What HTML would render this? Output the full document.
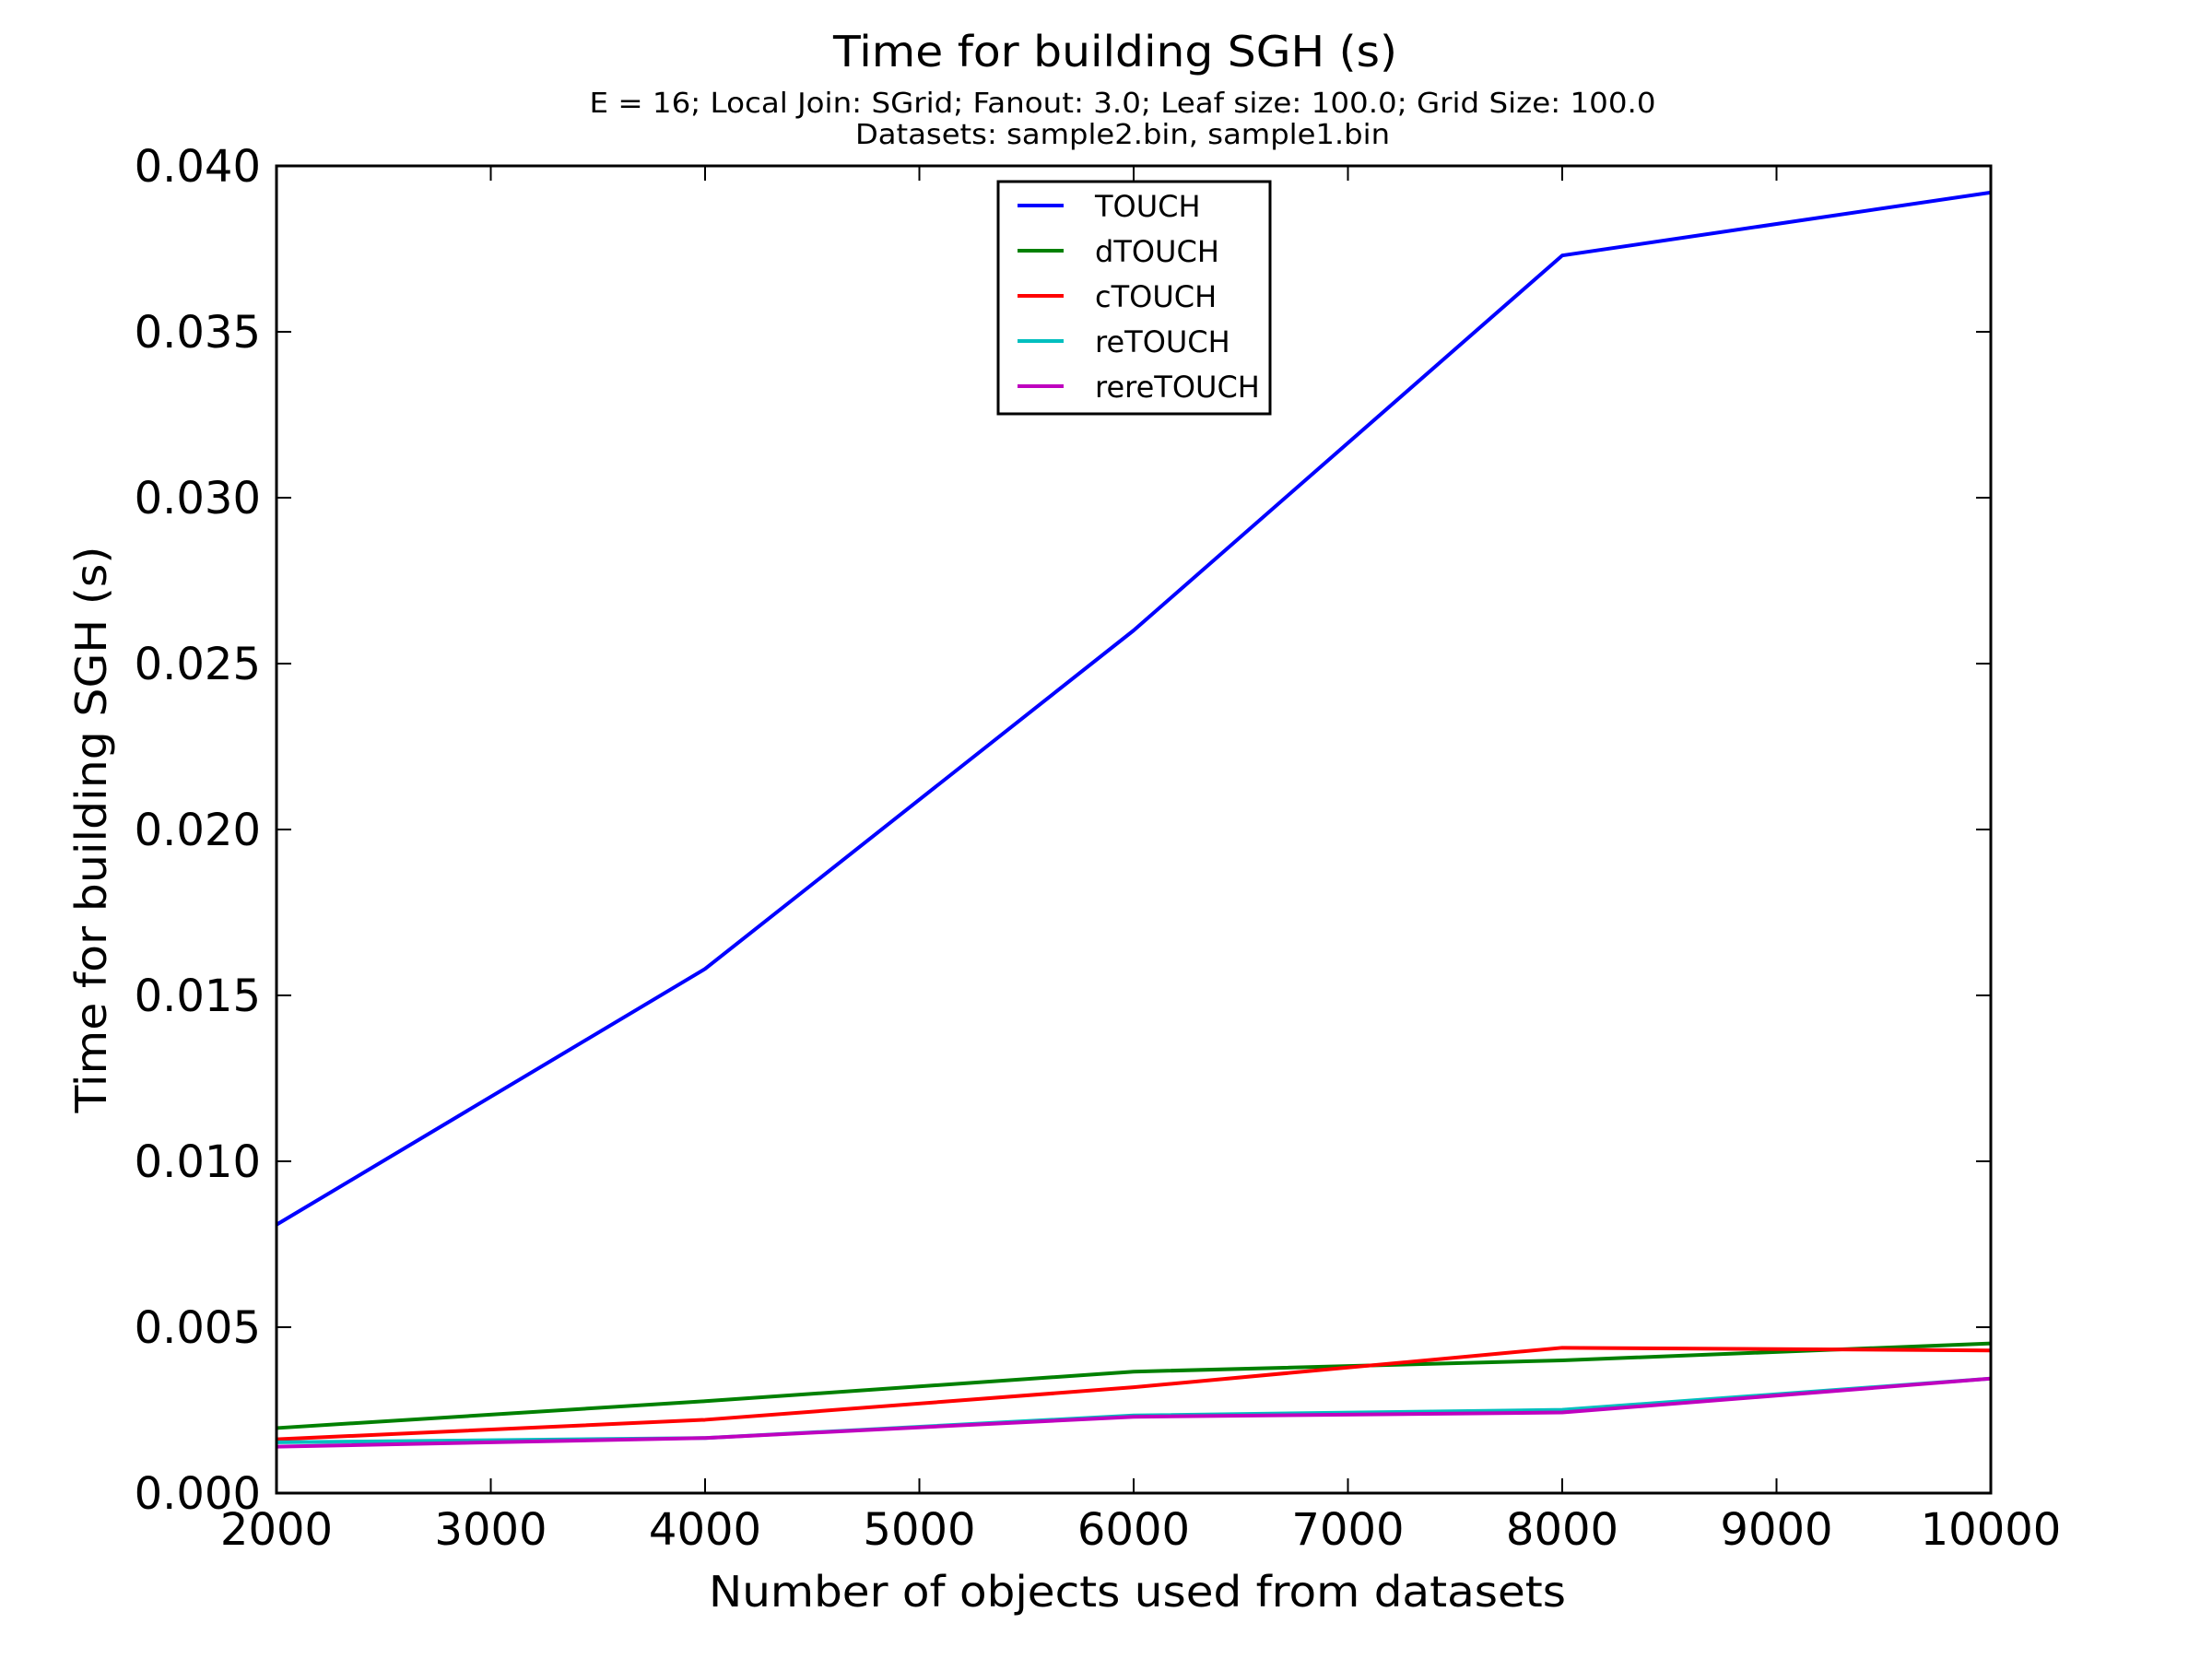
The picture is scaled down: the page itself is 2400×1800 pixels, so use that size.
<!DOCTYPE html>
<html><head><meta charset="utf-8"><style>
html,body{margin:0;padding:0;background:#fff;}
svg{display:block;font-family:"DejaVu Sans","Liberation Sans",sans-serif;}
</style></head><body>
<svg id="chart" width="2400" height="1800" viewBox="0 0 2400 1800" xmlns="http://www.w3.org/2000/svg">
<rect width="2400" height="1800" fill="#fff"/>
<text x="1210" y="72" font-size="46" text-anchor="middle" textLength="612" lengthAdjust="spacingAndGlyphs">Time for building SGH (s)</text>
<text x="1218" y="122" font-size="30" text-anchor="middle" textLength="1157" lengthAdjust="spacingAndGlyphs">E = 16; Local Join: SGrid; Fanout: 3.0; Leaf size: 100.0; Grid Size: 100.0</text>
<text x="1218" y="156" font-size="30" text-anchor="middle" textLength="580" lengthAdjust="spacingAndGlyphs">Datasets: sample2.bin, sample1.bin</text>
<g id="ticks"></g>
<g id="series"></g>
<rect x="300" y="180" width="1860" height="1440" fill="none" stroke="#000" stroke-width="3"/>
<text x="1234" y="1743" font-size="46" text-anchor="middle" textLength="930" lengthAdjust="spacingAndGlyphs">Number of objects used from datasets</text>
<text transform="translate(115,900) rotate(-90)" font-size="46" text-anchor="middle" textLength="615" lengthAdjust="spacingAndGlyphs">Time for building SGH (s)</text>
<g id="legend"></g>
</svg>
<script>
const categories = [2000, 4000, 6000, 8000, 10000];
const seriesNames = ["TOUCH", "dTOUCH", "cTOUCH", "reTOUCH", "rereTOUCH"];
const touch = [0.00809, 0.0158, 0.0260, 0.0373, 0.0392];
const dtouch = [0.00196, 0.00277, 0.00366, 0.0040, 0.00451];
const ctouch = [0.00162, 0.00221, 0.00319, 0.00438, 0.0043];
const retouch = [0.00153, 0.00166, 0.00234, 0.00251, 0.00345];
const reretouch = [0.0014, 0.00166, 0.0023, 0.00243, 0.00345];
const xTicks = [2000, 3000, 4000, 5000, 6000, 7000, 8000, 9000, 10000];
const yTicks = [0, 0.005, 0.010, 0.015, 0.020, 0.025, 0.030, 0.035, 0.040];
const yTickLabels = ["0.000","0.005","0.010","0.015","0.020","0.025","0.030","0.035","0.040"];

const colors = ["#0000ff","#008000","#ff0000","#00bfbf","#bf00bf"];
const allSeries = [touch, dtouch, ctouch, retouch, reretouch];
const NS = "http://www.w3.org/2000/svg";
const L = 300, R = 2160, T = 180, B = 1620;
const xs = v => L + (v - 2000) / 8000 * (R - L);
const ys = v => B - v / 0.04 * (B - T);
function mk(tag, attrs, parent) {
  const e = document.createElementNS(NS, tag);
  for (const k in attrs) e.setAttribute(k, attrs[k]);
  parent.appendChild(e);
  return e;
}
const tg = document.getElementById('ticks');
xTicks.forEach((v) => {
  const x = xs(v);
  const t1 = mk('line', {x1: x, x2: x, y1: B, y2: B - 16, stroke: '#000', 'stroke-width': 2}, tg);
  
  
  const t2 = mk('line', {x1: x, x2: x, y1: T, y2: T + 16, stroke: '#000', 'stroke-width': 2}, tg);
  
  
  const lb = mk('text', {x: x, y: B + 56, 'font-size': 48, 'text-anchor': 'middle'}, tg);
  lb.textContent = String(v);
  
  
});
yTicks.forEach((v, i) => {
  const y = ys(v);
  const t1 = mk('line', {x1: L, x2: L + 16, y1: y, y2: y, stroke: '#000', 'stroke-width': 2}, tg);
  
  
  const t2 = mk('line', {x1: R, x2: R - 16, y1: y, y2: y, stroke: '#000', 'stroke-width': 2}, tg);
  
  
  const lb = mk('text', {x: 283, y: y + 17, 'font-size': 48, 'text-anchor': 'end'}, tg);
  lb.textContent = yTickLabels[i];
  
  
});
const sg = document.getElementById('series');
allSeries.forEach((vals, si) => {
  const pts = vals.map((v, i) => xs(categories[i]) + ',' + ys(v)).join(' ');
  const pl = mk('polyline', {points: pts, fill: 'none', stroke: colors[si], 'stroke-width': 4, 'stroke-linejoin': 'round'}, sg);
  
  
});
const lg = document.getElementById('legend');
const box = mk('rect', {x: 1083, y: 197, width: 295, height: 252, fill: '#fff', stroke: '#000', 'stroke-width': 3}, lg);


seriesNames.forEach((n, i) => {
  const y = 223 + i * 49;
  const ln = mk('line', {x1: 1104, x2: 1154, y1: y, y2: y, stroke: colors[i], 'stroke-width': 4}, lg);
  
  
  const tx = mk('text', {x: 1188, y: y + 12, 'font-size': 32}, lg);
  tx.textContent = n;
  
  
});
</script>
</body></html>
